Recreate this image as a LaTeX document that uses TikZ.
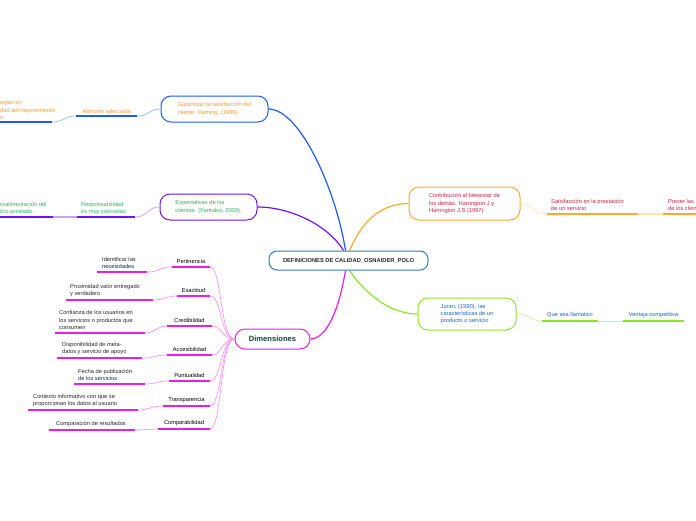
\documentclass[tikz,border=0pt]{standalone}
\usepackage{fontspec}
\setmainfont{Liberation Sans}
\definecolor{cBlue}{RGB}{30,90,250}
\definecolor{cBlueL}{RGB}{150,180,250}
\definecolor{cPur}{RGB}{110,20,240}
\definecolor{cPurL}{RGB}{195,165,245}
\definecolor{cOr}{RGB}{255,170,40}
\definecolor{cOrL}{RGB}{255,228,185}
\definecolor{cGr}{RGB}{140,230,40}
\definecolor{cGrL}{RGB}{205,242,165}
\definecolor{cMag}{RGB}{230,30,230}
\definecolor{cMagL}{RGB}{245,150,245}
\definecolor{cCen}{RGB}{60,120,190}
\definecolor{tOr}{RGB}{255,150,50}
\definecolor{tGr}{RGB}{40,180,90}
\definecolor{tRed}{RGB}{210,30,70}
\definecolor{tBlue}{RGB}{30,100,200}
\definecolor{tDim}{RGB}{20,70,50}
\definecolor{tDark}{RGB}{40,40,40}
\newcommand\fs{\fontsize{5.7}{7.4}\selectfont}
\pgfdeclarelayer{bg}
\pgfsetlayers{bg,main}
\tikzset{
  box/.style={draw, rounded corners=10pt, line width=1pt, fill=white, align=left, inner sep=0pt, font=\fs},
  lbl/.style={inner sep=0pt, align=left, font=\fs},
  ul/.style={line width=1.3pt},
  link/.style={line width=0.7pt},
  br/.style={line width=1.2pt}
}
\begin{document}
\begin{tikzpicture}[x=1pt,y=-1pt]
\begin{pgfonlayer}{bg}
\fill[white] (0,0) rectangle (696,520);
\end{pgfonlayer}
\useasboundingbox (0,0) rectangle (696,520);

% ---------- boxes ----------
\node[box, draw=cCen, rounded corners=8pt, minimum width=159pt, minimum height=19pt,
      font=\fontsize{5.75}{7}\selectfont\bfseries, text=black!85] (root) at (348.5,260.5)
      {DEFINICIONES DE CALIDAD\_OSNAIDER\_POLO};
\node[box, draw=cBlue, text=tOr, minimum width=107pt, minimum height=26pt] (gar) at (214.5,109)
  {Garantizar la satisfacción del\\cliente. Deming, (1989).};
\node[box, draw=cPur, text=tGr, minimum width=97pt, minimum height=26pt] (exp) at (208.5,207)
  {Expectativas de los\\clientes. (Fontalvo, 2009).};
\node[box, draw=cOr, text=tRed, minimum width=111pt, minimum height=33pt] (con) at (464.5,203.5)
  {Contribución al bienestar de\\los demás. Harrington J y\\Harrington J,S (1997)};
\node[box, draw=cGr, text=tBlue, minimum width=98pt, minimum height=32pt] (jur) at (467,314)
  {Juran, (1990). las\\características de un\\producto o servicio};
\node[box, draw=cMag, text=tDim, minimum width=75pt, minimum height=20pt,
      font=\fontsize{7.6}{9}\selectfont\bfseries] (dim) at (272.5,339) {Dimensiones};

% main branch curves (behind boxes)
\begin{pgfonlayer}{bg}
\draw[br, cBlue] ([xshift=-3pt]root.north) .. controls (336,190) and (300,109) .. (gar.east);
\draw[br, cPur] ([xshift=-5pt]root.north) .. controls (328,225) and (290,207) .. (exp.east);
\draw[br, cOr] ([xshift=1pt]root.north) .. controls (365,215) and (385,204) .. (con.west);
\draw[br, cGr] ([xshift=1pt]root.south) .. controls (370,300) and (395,314) .. (jur.west);
\draw[br, cMag] ([xshift=-3pt]root.south) .. controls (338,315) and (325,339) .. (dim.east);
\end{pgfonlayer}

% ---------- blue branch ----------
\coordinate (aeL) at (76,116); \coordinate (aeR) at (137,116);
\draw[ul, cBlue] (aeL) -- (aeR);
\node[lbl, text=tOr, anchor=south] (ae) at (106.5,113.5) {Atención adecuada};
\draw[link, cBlueL] (gar.west) .. controls (148,109) and (150,116) .. (aeR);
\coordinate (estL) at (0,122); \coordinate (estR) at (52,122);
\draw[ul, cBlue] (estL) -- (estR);
\node[lbl, text=tOr, anchor=south west] (est) at (0,120) {egias en\\dad del mejoramiento\\o};
\draw[link, cBlueL] (aeL) .. controls (64,116) and (64,122) .. (estR);

% ---------- purple branch ----------
\coordinate (respL) at (77,217); \coordinate (respR) at (135,217);
\draw[ul, cPur] (respL) -- (respR);
\node[lbl, text=tGr, anchor=south west] (resp) at (81,215) {Responsabilidad\\es muy concretas};
\draw[link, cPurL] (exp.west) .. controls (147,207) and (148,217) .. (respR);
\coordinate (retL) at (0,217); \coordinate (retR) at (53,217);
\draw[ul, cPur] (retL) -- (retR);
\node[lbl, text=tGr, anchor=south west] (ret) at (0,215) {roalimentación del\\icio prestado.};
\draw[link, cPurL, line width=1.3pt] (respL) -- (retR);

% ---------- orange branch ----------
\coordinate (satL) at (547,214); \coordinate (satR) at (638,214);
\draw[ul, cOr] (satL) -- (satR);
\node[lbl, text=tRed, anchor=south west] (sat) at (551,211) {Satisfacción en la prestación\\de un servicio};
\draw[link, cOrL] (con.east) .. controls (533,204) and (533,214) .. (satL);
\coordinate (preL) at (663,214); \coordinate (preR) at (700,214);
\draw[ul, cOr] (preL) -- (preR);
\node[lbl, text=tRed, anchor=south west] (pre) at (668,211) {Prever las\\de los clientes};
\draw[link, cOrL, line width=1.3pt] (satR) -- (preL);

% ---------- green branch ----------
\coordinate (queL) at (542,321); \coordinate (queR) at (598,321);
\draw[ul, cGr] (queL) -- (queR);
\node[lbl, text=tBlue, anchor=south] (que) at (570,318) {Que sea llamativo};
\draw[link, cGrL] (jur.east) .. controls (530,314) and (530,321) .. (queL);
\coordinate (venL) at (623,321); \coordinate (venR) at (684,321);
\draw[ul, cGr] (venL) -- (venR);
\node[lbl, text=tBlue, anchor=south] (ven) at (653.5,318) {Ventaja competitiva};
\draw[link, cGrL] (queR) -- (venL);

% ---------- magenta branch: dimensions ----------
\coordinate (pertL) at (172,267); \coordinate (pertR) at (210,267);
\draw[ul, cMag] (pertL) -- (pertR);
\node[lbl, anchor=south] (pert) at (191,264) {Pertinencia};
\draw[link, cMagL] (dim.west) .. controls (220,339) and (222,267) .. (pertR);
\coordinate (idL) at (97,272); \coordinate (idR) at (147,272);
\draw[ul, cMag] (idL) -- (idR);
\node[lbl, text=tDark, anchor=south west] (id) at (102,269) {Identificar las\\necesidades};
\draw[link, cMagL] (pertL) .. controls (160,267) and (159,272) .. (idR);

\coordinate (exaL) at (177,296); \coordinate (exaR) at (210,296);
\draw[ul, cMag] (exaL) -- (exaR);
\node[lbl, anchor=south] (exa) at (193.5,293) {Exactitud};
\draw[link, cMagL] (dim.west) .. controls (220,339) and (222,296) .. (exaR);
\coordinate (proL) at (66,300); \coordinate (proR) at (153,300);
\draw[ul, cMag] (proL) -- (proR);
\node[lbl, text=tDark, anchor=south west] (pro) at (70,297) {Proximidad valor entregado\\y verdadero};
\draw[link, cMagL] (exaL) .. controls (165,296) and (165,300) .. (proR);

\coordinate (creL) at (167,326); \coordinate (creR) at (212,326);
\draw[ul, cMag] (creL) -- (creR);
\node[lbl, anchor=south] (cre) at (189.5,323) {Credibilidad};
\draw[link, cMagL] (dim.west) .. controls (222,339) and (222,326) .. (creR);
\coordinate (cfL) at (55,333); \coordinate (cfR) at (145,333);
\draw[ul, cMag] (cfL) -- (cfR);
\node[lbl, text=tDark, anchor=south west] (cf) at (59,330) {Confianza de los usuarios en\\los servicios o productos que\\consumen};
\draw[link, cMagL] (creL) .. controls (156,326) and (156,333) .. (cfR);

\coordinate (accL) at (167,355); \coordinate (accR) at (212,355);
\draw[ul, cMag] (accL) -- (accR);
\node[lbl, anchor=south] (acc) at (189.5,352) {Accesibilidad};
\draw[link, cMagL] (dim.west) .. controls (222,339) and (222,355) .. (accR);
\coordinate (dsL) at (57,358); \coordinate (dsR) at (142,358);
\draw[ul, cMag] (dsL) -- (dsR);
\node[lbl, text=tDark, anchor=south west] (ds) at (62,355) {Disponibilidad de meta-\\datos y servicio de apoyo};
\draw[link, cMagL] (accL) .. controls (155,355) and (155,358) .. (dsR);

\coordinate (punL) at (169,381); \coordinate (punR) at (210,381);
\draw[ul, cMag] (punL) -- (punR);
\node[lbl, anchor=south] (pun) at (189.5,378) {Puntualidad};
\draw[link, cMagL] (dim.west) .. controls (220,339) and (222,381) .. (punR);
\coordinate (feL) at (74,384); \coordinate (feR) at (145,384);
\draw[ul, cMag] (feL) -- (feR);
\node[lbl, text=tDark, anchor=south west] (fe) at (78,381) {Fecha de publicación\\de los servicios};
\draw[link, cMagL] (punL) .. controls (157,381) and (157,384) .. (feR);

\coordinate (traL) at (163,406); \coordinate (traR) at (210,406);
\draw[ul, cMag] (traL) -- (traR);
\node[lbl, anchor=south] (tra) at (186.5,403) {Transparencia};
\draw[link, cMagL] (dim.west) .. controls (220,339) and (222,406) .. (traR);
\coordinate (ctL) at (28,410); \coordinate (ctR) at (138,410);
\draw[ul, cMag] (ctL) -- (ctR);
\node[lbl, text=tDark, anchor=south west] (ct) at (33,407) {Contexto informativo con que se\\proporcionan los datos al usuario};
\draw[link, cMagL] (traL) .. controls (150,406) and (150,410) .. (ctR);

\coordinate (comL) at (158,429); \coordinate (comR) at (210,429);
\draw[ul, cMag] (comL) -- (comR);
\node[lbl, anchor=south] (com) at (184,426) {Comparabilidad};
\draw[link, cMagL] (dim.west) .. controls (220,339) and (222,429) .. (comR);
\coordinate (cpL) at (49,430); \coordinate (cpR) at (135,430);
\draw[ul, cMag] (cpL) -- (cpR);
\node[lbl, text=tDark, anchor=south] (cp) at (91,427) {Comparación de resultados};
\draw[link, cMagL] (comL) .. controls (147,429) and (147,430) .. (cpR);
\end{tikzpicture}
\end{document}
